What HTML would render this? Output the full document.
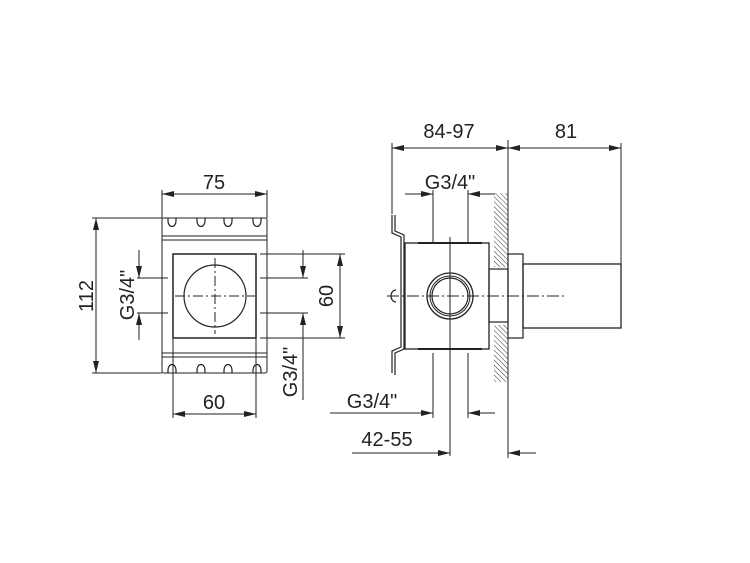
<!DOCTYPE html>
<html><head><style>html,body{margin:0;padding:0;background:#fff}svg{display:block}</style></head><body>
<svg width="750" height="563" viewBox="0 0 750 563" xmlns="http://www.w3.org/2000/svg" font-family="Liberation Sans, sans-serif" fill="none" stroke="#222" stroke-width="1">
<defs>
<marker id="a" viewBox="0 0 12 6" refX="12" refY="3" markerWidth="12" markerHeight="6" orient="auto-start-reverse" markerUnits="userSpaceOnUse"><path d="M0,0 L12,3 L0,6z" fill="#222" stroke="none"/></marker>
<pattern id="h" width="3.5" height="3.5" patternUnits="userSpaceOnUse" patternTransform="rotate(-45)"><line x1="0" y1="0" x2="0" y2="3.5" stroke="#333" stroke-width="1"/></pattern>
</defs>
<!-- LEFT VIEW -->
<rect x="162" y="218" width="105" height="155" rx="2"/>
<line x1="162" y1="236" x2="267" y2="236"/><line x1="162" y1="240" x2="267" y2="240"/>
<line x1="162" y1="353" x2="267" y2="353"/><line x1="162" y1="357" x2="267" y2="357"/>
<g stroke-width="1.2">
<path d="M168,218 v3 a4,5.5 0 1 0 8,0 v-3"/><path d="M197,218 v3 a4,5.5 0 1 0 8,0 v-3"/><path d="M224,218 v3 a4,5.5 0 1 0 8,0 v-3"/><path d="M253,218 v3 a4,5.5 0 1 0 8,0 v-3"/>
<path d="M168,373 v-3 a4,5.5 0 1 1 8,0 v3"/><path d="M197,373 v-3 a4,5.5 0 1 1 8,0 v3"/><path d="M224,373 v-3 a4,5.5 0 1 1 8,0 v3"/><path d="M253,373 v-3 a4,5.5 0 1 1 8,0 v3"/>
</g>
<rect x="173" y="254" width="83" height="84" stroke-width="1.5"/>
<circle cx="215" cy="296" r="31" stroke-width="1.2"/>
<line x1="175" y1="296" x2="255" y2="296" stroke-dasharray="10,3,2,3"/>
<line x1="215" y1="258" x2="215" y2="334" stroke-dasharray="10,3,2,3"/>
<line x1="162" y1="190" x2="162" y2="218"/><line x1="267" y1="190" x2="267" y2="218"/>
<line x1="162" y1="194" x2="267" y2="194" marker-start="url(#a)" marker-end="url(#a)"/>
<line x1="92" y1="218" x2="162" y2="218"/><line x1="92" y1="373" x2="162" y2="373"/>
<line x1="96" y1="218" x2="96" y2="373" marker-start="url(#a)" marker-end="url(#a)"/>
<line x1="137" y1="278" x2="168" y2="278"/><line x1="137" y1="313" x2="168" y2="313"/>
<line x1="139" y1="250" x2="139" y2="278" marker-end="url(#a)"/>
<line x1="139" y1="340" x2="139" y2="313" marker-end="url(#a)"/>
<line x1="260" y1="254" x2="345" y2="254"/><line x1="260" y1="338" x2="345" y2="338"/>
<line x1="260" y1="278" x2="308" y2="278"/><line x1="260" y1="313" x2="308" y2="313"/>
<line x1="340" y1="254" x2="340" y2="338" marker-start="url(#a)" marker-end="url(#a)"/>
<line x1="303" y1="250" x2="303" y2="278" marker-end="url(#a)"/>
<line x1="303" y1="400" x2="303" y2="313" marker-end="url(#a)"/>
<line x1="173" y1="338" x2="173" y2="418"/><line x1="256" y1="338" x2="256" y2="418"/>
<line x1="173" y1="414" x2="256" y2="414" marker-start="url(#a)" marker-end="url(#a)"/>
<!-- RIGHT VIEW -->
<rect x="494" y="193" width="14" height="74" fill="url(#h)" stroke="none"/>
<rect x="494" y="325" width="14" height="57" fill="url(#h)" stroke="none"/>
<line x1="508" y1="140" x2="508" y2="458"/>
<line x1="392" y1="143" x2="392" y2="214"/><line x1="621" y1="143" x2="621" y2="265"/>
<line x1="392" y1="148" x2="508" y2="148" marker-start="url(#a)" marker-end="url(#a)"/>
<line x1="508" y1="148" x2="621" y2="148" marker-start="url(#a)" marker-end="url(#a)"/>
<path d="M392,215 v18 l9,4 v110 l-9,4 v22 M395,215 v16 l9,4 v114 l-9,4 v22" stroke-width="1.2"/>
<path d="M396,290 a5,6 0 0 0 0,12" stroke-width="1.2"/>
<rect x="405" y="243" width="84" height="106" stroke-width="1.3"/>
<line x1="418" y1="243" x2="482" y2="243" stroke-width="2"/><line x1="418" y1="349" x2="482" y2="349" stroke-width="2"/>
<circle cx="450" cy="296" r="23" stroke-width="1.3"/><circle cx="450" cy="296" r="20"/><circle cx="450" cy="296" r="18" stroke-width="1.2"/>
<rect x="489" y="269" width="19" height="53" stroke-width="1.2"/>
<rect x="508" y="254" width="15" height="84" stroke-width="1.2"/>
<rect x="523" y="264" width="98" height="64" stroke-width="1.3"/>
<line x1="387" y1="296" x2="565" y2="296" stroke-dasharray="12,3,2,3"/>
<line x1="450" y1="237" x2="450" y2="456"/>
<line x1="433" y1="190" x2="433" y2="243"/><line x1="468" y1="190" x2="468" y2="243"/>
<line x1="405" y1="194" x2="433" y2="194" marker-end="url(#a)"/>
<line x1="495" y1="194" x2="468" y2="194" marker-end="url(#a)"/>
<line x1="433" y1="353" x2="433" y2="418"/><line x1="468" y1="353" x2="468" y2="418"/>
<line x1="330" y1="413" x2="433" y2="413" marker-end="url(#a)"/>
<line x1="495" y1="413" x2="468" y2="413" marker-end="url(#a)"/>
<line x1="352" y1="453" x2="450" y2="453" marker-end="url(#a)"/>
<line x1="536" y1="453" x2="508" y2="453" marker-end="url(#a)"/>
<g fill="#222" stroke="none" font-size="20">
<text x="214" y="189" text-anchor="middle">75</text>
<text x="214" y="409" text-anchor="middle">60</text>
<text transform="translate(93,296) rotate(-90)" text-anchor="middle">112</text>
<text transform="translate(134,295) rotate(-90)" text-anchor="middle">G3/4"</text>
<text transform="translate(333,296) rotate(-90)" text-anchor="middle">60</text>
<text transform="translate(297,372) rotate(-90)" text-anchor="middle">G3/4"</text>
<text x="449" y="138" text-anchor="middle">84-97</text>
<text x="566" y="138" text-anchor="middle">81</text>
<text x="450" y="189" text-anchor="middle">G3/4"</text>
<text x="372" y="408" text-anchor="middle">G3/4"</text>
<text x="387" y="446" text-anchor="middle">42-55</text>
</g>
</svg>
</body></html>
